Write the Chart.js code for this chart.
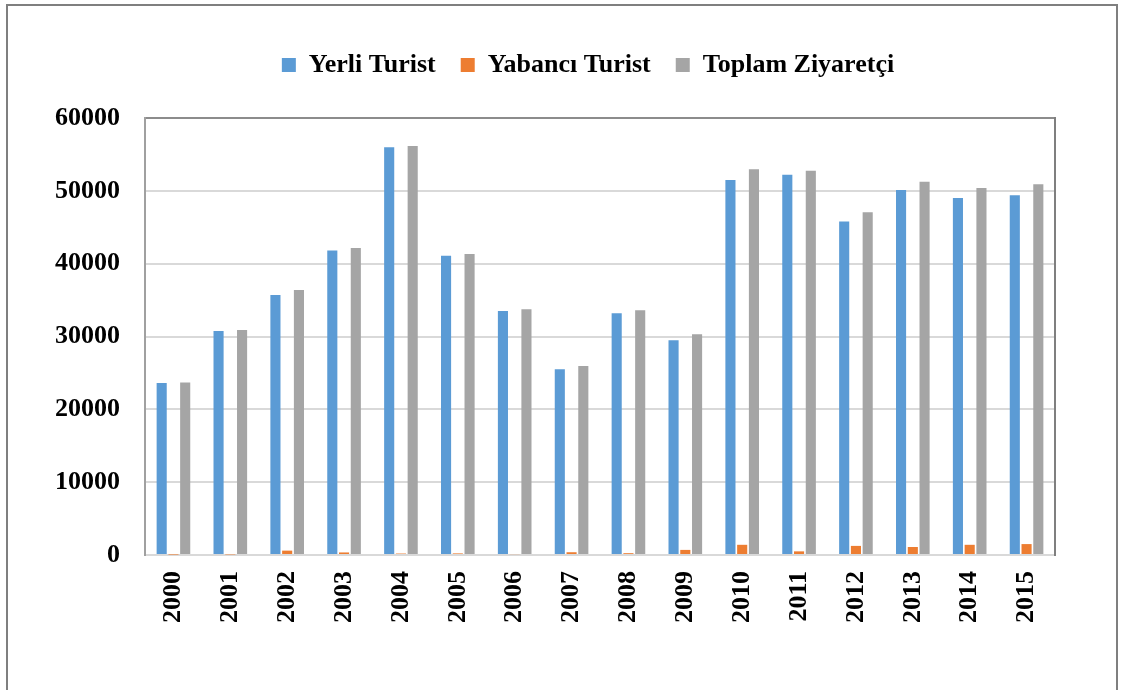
<!DOCTYPE html>
<html lang="tr">
<head>
<meta charset="utf-8">
<title>Yerli ve Yabancı Turist Sayıları 2000-2015</title>
<script src="https://cdn.jsdelivr.net/npm/chart.js@4/dist/chart.umd.min.js"></script>
<style>
  html, body { margin: 0; padding: 0; background: #ffffff; }
  #wrap { width: 1121px; height: 690px; position: relative; }
</style>
</head>
<body>
<div id="wrap"><canvas id="chart" width="1121" height="690"></canvas></div>
<script>
// Years on the horizontal axis
const years = ['2000', '2001', '2002', '2003', '2004', '2005', '2006', '2007',
               '2008', '2009', '2010', '2011', '2012', '2013', '2014', '2015'];

// Domestic tourists
const yerliTurist = [23600, 30750, 35700, 41800, 56000, 41100, 33500, 25500,
                     33200, 29500, 51500, 52200, 45800, 50100, 49000, 49400];

// Foreign tourists
const yabanciTurist = [60, 80, 600, 350, 200, 220, 120, 380,
                       250, 700, 1400, 500, 1250, 1100, 1400, 1500];

// Total visitors
const toplamZiyaretci = [23700, 30900, 36400, 42150, 56150, 41330, 33750, 25950,
                         33600, 30300, 52950, 52750, 47050, 51250, 50400, 50900];

// Value axis ticks
const yTickValues = [0, 10000, 20000, 30000, 40000, 50000, 60000];

const seriesNames = ['Yerli Turist', 'Yabancı Turist', 'Toplam Ziyaretçi'];
const seriesColors = ['#5B9BD5', '#ED7D31', '#A5A5A5'];

Chart.defaults.font.family = "'Liberation Serif', 'Times New Roman', serif";
Chart.defaults.font.weight = 'bold';
Chart.defaults.color = '#000000';

// Outer frame around the whole figure
const framePlugin = {
  id: 'frame',
  beforeDraw(chart) {
    const ctx = chart.ctx;
    ctx.save();
    ctx.strokeStyle = '#7f7f7f';
    ctx.lineWidth = 2;
    ctx.beginPath();
    ctx.moveTo(7, 690);
    ctx.lineTo(7, 5);
    ctx.lineTo(1117, 5);
    ctx.lineTo(1117, 690);
    ctx.stroke();
    ctx.restore();
  }
};

// Give the legend a fixed band above the plot
const legendBandPlugin = {
  id: 'legendBand',
  beforeLayout(chart) {
    const lg = chart.legend;
    if (lg && !lg._bandPatched) {
      const fit = lg.fit;
      lg.fit = function () {
        fit.call(this);
        this.height = 91;
      };
      lg._bandPatched = true;
    }
  }
};

const ctx = document.getElementById('chart').getContext('2d');
new Chart(ctx, {
  type: 'bar',
  data: {
    labels: years,
    datasets: [
      { label: seriesNames[0], data: yerliTurist, backgroundColor: seriesColors[0] },
      { label: seriesNames[1], data: yabanciTurist, backgroundColor: seriesColors[1] },
      { label: seriesNames[2], data: toplamZiyaretci, backgroundColor: seriesColors[2] }
    ]
  },
  options: {
    responsive: false,
    animation: false,
    devicePixelRatio: 1,
    layout: { padding: { left: 55, right: 0, top: 27, bottom: 0 } },
    datasets: {
      bar: { categoryPercentage: 0.62, barPercentage: 0.86, borderWidth: 0 }
    },
    plugins: {
      legend: {
        position: 'top',
        labels: {
          boxWidth: 14,
          boxHeight: 14,
          padding: 25,
          font: { size: 26, weight: 'bold' },
          color: '#000000'
        }
      },
      tooltip: { enabled: false }
    },
    scales: {
      x: {
        position: 'bottom',
        grid: { display: false, drawTicks: false },
        border: { display: true, color: '#d9d9d9', width: 2 },
        ticks: {
          minRotation: 90,
          maxRotation: 90,
          autoSkip: false,
          padding: 16,
          font: { size: 26, weight: 'bold' },
          color: '#000000'
        },
        afterFit(scale) { scale.height = 135; }
      },
      xTop: {
        type: 'category',
        labels: years,
        position: 'top',
        grid: { display: false, drawTicks: false },
        border: { display: true, color: '#8c8c8c', width: 2 },
        ticks: { display: false },
        afterFit(scale) { scale.height = 0; }
      },
      y: {
        position: 'left',
        min: 0,
        max: 60000,
        afterBuildTicks(scale) {
          scale.ticks = yTickValues.map(v => ({ value: v }));
        },
        grid: { color: '#d9d9d9', lineWidth: 2, drawTicks: false },
        border: { display: true, color: '#a0a0a0', width: 2 },
        ticks: {
          padding: 25,
          font: { size: 26, weight: 'bold' },
          color: '#000000',
          callback: v => String(v)
        },
        afterFit(scale) { scale.width = 90; }
      },
      yRight: {
        type: 'linear',
        position: 'right',
        min: 0,
        max: 60000,
        grid: { display: false, drawTicks: false },
        border: { display: true, color: '#7f7f7f', width: 2 },
        ticks: { display: false },
        afterFit(scale) { scale.width = 66; }
      }
    }
  },
  plugins: [framePlugin, legendBandPlugin]
});
</script>
</body>
</html>
